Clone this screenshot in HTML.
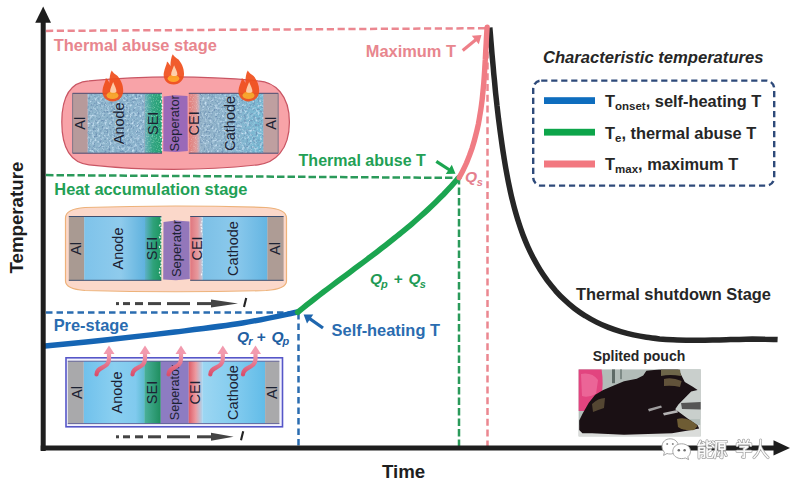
<!DOCTYPE html>
<html><head><meta charset="utf-8">
<style>
html,body{margin:0;padding:0;background:#fff;}
body{width:800px;height:485px;overflow:hidden;position:relative;font-family:"Liberation Sans",sans-serif;}
svg{position:absolute;left:0;top:0;}
text{font-family:"Liberation Sans",sans-serif;}
</style></head><body>
<svg width="800" height="485" viewBox="0 0 800 485">
<defs>
<filter id="spk" x="0" y="0" width="1" height="1" color-interpolation-filters="sRGB">
  <feTurbulence type="fractalNoise" baseFrequency="0.45" numOctaves="2" seed="4" result="n"/>
  <feColorMatrix in="n" type="matrix" values="0 0 0 0 0.42  0 0 0 0 0.56  0 0 0 0 0.7  3 0 0 0 -1.45" result="d"/>
  <feComposite in="d" in2="SourceGraphic" operator="in" result="dd"/>
  <feTurbulence type="fractalNoise" baseFrequency="0.4" numOctaves="2" seed="9" result="n2"/>
  <feColorMatrix in="n2" type="matrix" values="0 0 0 0 0.78  0 0 0 0 0.88  0 0 0 0 0.95  3 0 0 0 -1.5" result="l"/>
  <feComposite in="l" in2="SourceGraphic" operator="in" result="ll"/>
  <feMerge><feMergeNode in="SourceGraphic"/><feMergeNode in="dd"/><feMergeNode in="ll"/></feMerge>
</filter>
<filter id="spkG" x="0" y="0" width="1" height="1" color-interpolation-filters="sRGB">
  <feTurbulence type="fractalNoise" baseFrequency="0.8" numOctaves="2" seed="2" result="n"/>
  <feColorMatrix in="n" type="matrix" values="0 0 0 0 0.75  0 0 0 0 0.95  0 0 0 0 0.85  1.6 0 0 0 -0.8" result="l"/>
  <feComposite in="l" in2="SourceGraphic" operator="in" result="ll"/>
  <feMerge><feMergeNode in="SourceGraphic"/><feMergeNode in="ll"/></feMerge>
</filter>
<filter id="spkR" x="0" y="0" width="1" height="1" color-interpolation-filters="sRGB">
  <feTurbulence type="fractalNoise" baseFrequency="0.8" numOctaves="2" seed="5" result="n"/>
  <feColorMatrix in="n" type="matrix" values="0 0 0 0 0.95  0 0 0 0 0.8  0 0 0 0 0.8  1.6 0 0 0 -0.8" result="l"/>
  <feComposite in="l" in2="SourceGraphic" operator="in" result="ll"/>
  <feMerge><feMergeNode in="SourceGraphic"/><feMergeNode in="ll"/></feMerge>
</filter>
<linearGradient id="gAn1" x1="0" x2="1" y1="0" y2="0">
  <stop offset="0" stop-color="#90B6CC"/><stop offset="1" stop-color="#8CB4CE"/>
</linearGradient>
<linearGradient id="gCa1" x1="0" x2="1" y1="0" y2="0">
  <stop offset="0" stop-color="#95B3C8"/><stop offset="0.5" stop-color="#8CB6CF"/><stop offset="1" stop-color="#76BAD4"/>
</linearGradient>
<linearGradient id="gSEI1" x1="0" x2="1" y1="0" y2="0">
  <stop offset="0" stop-color="#6FAEC0"/><stop offset="0.45" stop-color="#35A585"/><stop offset="1" stop-color="#22A070"/>
</linearGradient>
<linearGradient id="gCEI1" x1="0" x2="1" y1="0" y2="0">
  <stop offset="0" stop-color="#E37C78"/><stop offset="0.7" stop-color="#DE9C9C"/><stop offset="1" stop-color="#B0B8CC"/>
</linearGradient>
<linearGradient id="gAn2" x1="0" x2="1" y1="0" y2="0">
  <stop offset="0" stop-color="#7EC3EA"/><stop offset="0.6" stop-color="#8FCBEC"/><stop offset="1" stop-color="#5FB2DE"/>
</linearGradient>
<linearGradient id="gSEI2" x1="0" x2="1" y1="0" y2="0">
  <stop offset="0" stop-color="#5DB0C8"/><stop offset="0.5" stop-color="#2FA27A"/><stop offset="1" stop-color="#1D9660"/>
</linearGradient>
<linearGradient id="gCEI2" x1="0" x2="1" y1="0" y2="0">
  <stop offset="0" stop-color="#E0767E"/><stop offset="0.6" stop-color="#E79A9E"/><stop offset="1" stop-color="#B9CCE0"/>
</linearGradient>
<linearGradient id="gCa2" x1="0" x2="1" y1="0" y2="0">
  <stop offset="0" stop-color="#7CC0E6"/><stop offset="0.5" stop-color="#8BC9EC"/><stop offset="1" stop-color="#64B5E2"/>
</linearGradient>
<linearGradient id="gAn3" x1="0" x2="1" y1="0" y2="0">
  <stop offset="0" stop-color="#70C1EC"/><stop offset="0.5" stop-color="#8ACFF0"/><stop offset="0.85" stop-color="#80CAEE"/><stop offset="1" stop-color="#5CBAD0"/>
</linearGradient>
<linearGradient id="gSEI3" x1="0" x2="1" y1="0" y2="0">
  <stop offset="0" stop-color="#4AB09A"/><stop offset="1" stop-color="#1E8E5E"/>
</linearGradient>
<linearGradient id="gCEI3" x1="0" x2="1" y1="0" y2="0">
  <stop offset="0" stop-color="#DF5E68"/><stop offset="0.5" stop-color="#EC9AA0"/><stop offset="1" stop-color="#A9D6F0"/>
</linearGradient>
<linearGradient id="gCa3" x1="0" x2="1" y1="0" y2="0">
  <stop offset="0" stop-color="#9CD6F2"/><stop offset="0.5" stop-color="#84CCEF"/><stop offset="1" stop-color="#62BCE8"/>
</linearGradient>
<linearGradient id="gHeat" x1="0" x2="0" y1="1" y2="0">
  <stop offset="0" stop-color="#D94F6C"/><stop offset="1" stop-color="#F2A0B2"/>
</linearGradient>
</defs>
<rect width="800" height="485" fill="#fff"/>
<g fill="none" stroke-width="2.5">
  <path d="M46 30.9 L487.5 28.2" stroke="#EB8790" stroke-dasharray="7.2 3.6"/>
  <path d="M487.5 30 V446" stroke="#EB8790" stroke-dasharray="7 3.8"/>
  <path d="M46 175.1 L459 177.9" stroke="#2A9A5A" stroke-dasharray="7.5 3"/>
  <path d="M459 177 V446" stroke="#2A9A5A" stroke-dasharray="7.5 3"/>
  <path d="M46 312.5 H298" stroke="#2A6CB0" stroke-dasharray="6.5 4"/>
  <path d="M298.5 313 V446" stroke="#2A6CB0" stroke-dasharray="6.5 4"/>
</g>
<path d="M89 80.9 Q174 73 258 80.9 C275 82 289.4 95 289.4 122 C289.4 150 275 163 258 164.8 Q174 174 89 164.8 C72 163 61.8 150 61.8 122 C61.8 95 72 82 89 80.9 Z" fill="#F8A3A8" stroke="#C95563" stroke-width="1.2"/>
<rect x="72.6" y="93.3" width="15" height="59.89999999999999" fill="#B79A9B"/>
<rect x="87.6" y="93.3" width="57" height="59.89999999999999" fill="url(#gAn1)" filter="url(#spk)"/>
<rect x="144.5" y="93.3" width="17.5" height="59.89999999999999" fill="url(#gSEI1)" filter="url(#spkG)"/>
<path d="M161.0 94.3 L161.3 96.6 L161.9 99.0 L160.4 100.6 L161.0 103.4 L162.8 105.2 L162.4 107.4 L161.9 109.6 L161.9 111.4 L161.7 114.2 L162.0 116.8 L162.2 118.4 L161.1 120.8 L162.5 122.3 L162.1 124.5 L162.1 127.3 L161.3 130.2 L161.5 132.9 L162.5 135.8 L160.7 137.5 L162.7 139.3 L161.9 141.5 L161.6 143.4 L161.2 145.5 L161.8 147.9 L162.0 150.7" fill="none" stroke="#ffffff" stroke-width="1.3" stroke-dasharray="2 1.5" opacity="0.85"/>
<path d="M163.5 96.5 L175 95.2 L187.5 96 L187.8 151 L176 152 L163.3 151.2 Z" fill="#9A69B8"/>
<rect x="188.8" y="93.3" width="11" height="59.89999999999999" fill="url(#gCEI1)" filter="url(#spkR)"/>
<rect x="199.6" y="93.3" width="64" height="59.89999999999999" fill="url(#gCa1)" filter="url(#spk)"/>
<rect x="263.6" y="93.3" width="14.6" height="59.89999999999999" fill="#BF9FA0"/>
<path d="M72.6 93.3 H162 M72.6 153.2 H162 M188.8 93.3 H278.2 M188.8 153.2 H278.2" stroke="#4A4A70" stroke-width="1" fill="none"/>
<path d="M72.6 93.3 V153.2 M278.2 93.3 V153.2" stroke="#6A6A80" stroke-width="0.8" fill="none"/>
<text transform="translate(84.6,123.3) rotate(-90)" font-size="14.5" fill="#1c2233" text-anchor="middle" >Al</text>
<text transform="translate(123.6,123.3) rotate(-90)" font-size="14.5" fill="#1c2233" text-anchor="middle" >Anode</text>
<text transform="translate(158.2,123.3) rotate(-90)" font-size="14.5" fill="#1c2233" text-anchor="middle" >SEI</text>
<text transform="translate(179,123.3) rotate(-90)" fill="#1c2233" text-anchor="middle" font-size="12.8">Seperator</text>
<text transform="translate(199,123.3) rotate(-90)" font-size="14.5" fill="#1c2233" text-anchor="middle" >CEI</text>
<text transform="translate(235.3,123.3) rotate(-90)" font-size="14.5" fill="#1c2233" text-anchor="middle" >Cathode</text>
<text transform="translate(275.5,123.3) rotate(-90)" font-size="14.5" fill="#1c2233" text-anchor="middle" >Al</text>
<g transform="translate(112.8,101.2) scale(1.07)" opacity="0.93">
<path d="M0 0.2 C-7.5 0.2 -10.5 -6 -9.5 -11 C-8.5 -16 -6.5 -19 -6.5 -21.6 C-4.5 -20 -3.5 -18 -3.2 -17 C-3.2 -22 -2.5 -26 -1 -28.6 C0.5 -26 2.5 -25 4.5 -23.6 C7.5 -20 10 -15 9.7 -9 C9.5 -4 5.5 0.2 0 0.2 Z" fill="#F0501E"/>
<ellipse cx="-0.3" cy="-5.4" rx="5.6" ry="3.4" fill="#FFA424"/>
<path d="M0.3 -18 C1.5 -15 3.6 -11.5 3.4 -9 C3 -7.4 -2.2 -7.4 -2.6 -9 C-2.6 -11.5 -0.8 -15 0.3 -18 Z" fill="#FFD9B5" opacity="0.9"/>
</g>
<g transform="translate(173.8,84.2) scale(1.05)" opacity="0.93">
<path d="M0 0.2 C-7.5 0.2 -10.5 -6 -9.5 -11 C-8.5 -16 -6.5 -19 -6.5 -21.6 C-4.5 -20 -3.5 -18 -3.2 -17 C-3.2 -22 -2.5 -26 -1 -28.6 C0.5 -26 2.5 -25 4.5 -23.6 C7.5 -20 10 -15 9.7 -9 C9.5 -4 5.5 0.2 0 0.2 Z" fill="#F0501E"/>
<ellipse cx="-0.3" cy="-5.4" rx="5.6" ry="3.4" fill="#FFA424"/>
<path d="M0.3 -18 C1.5 -15 3.6 -11.5 3.4 -9 C3 -7.4 -2.2 -7.4 -2.6 -9 C-2.6 -11.5 -0.8 -15 0.3 -18 Z" fill="#FFD9B5" opacity="0.9"/>
</g>
<g transform="translate(248.8,101.2) scale(1.07)" opacity="0.93">
<path d="M0 0.2 C-7.5 0.2 -10.5 -6 -9.5 -11 C-8.5 -16 -6.5 -19 -6.5 -21.6 C-4.5 -20 -3.5 -18 -3.2 -17 C-3.2 -22 -2.5 -26 -1 -28.6 C0.5 -26 2.5 -25 4.5 -23.6 C7.5 -20 10 -15 9.7 -9 C9.5 -4 5.5 0.2 0 0.2 Z" fill="#F0501E"/>
<ellipse cx="-0.3" cy="-5.4" rx="5.6" ry="3.4" fill="#FFA424"/>
<path d="M0.3 -18 C1.5 -15 3.6 -11.5 3.4 -9 C3 -7.4 -2.2 -7.4 -2.6 -9 C-2.6 -11.5 -0.8 -15 0.3 -18 Z" fill="#FFD9B5" opacity="0.9"/>
</g>
<path d="M85 207.5 Q176 204.5 266 207.5 Q286.5 209 286.5 218 L286.5 281 Q286.5 289 266 290.5 Q176 293 85 290.5 Q65.5 289 65.5 281 L65.5 218 Q65.5 209 85 207.5 Z" fill="#FBD8CA" stroke="#EDB27A" stroke-width="1.2"/>
<rect x="68.8" y="216.5" width="15.4" height="63.80000000000001" fill="#A99A92"/>
<rect x="84.2" y="216.5" width="61" height="63.80000000000001" fill="url(#gAn2)"/>
<rect x="145" y="216.5" width="16.3" height="63.80000000000001" fill="url(#gSEI2)"/>
<path d="M160.9 217.5 L161.3 220.1 L161.2 223.0 L159.5 225.9 L161.7 228.1 L161.6 230.6 L160.5 232.3 L160.7 234.1 L159.4 236.5 L160.1 238.3 L161.2 241.2 L161.3 242.9 L160.9 244.6 L159.4 246.3 L159.9 249.1 L161.8 250.9 L160.1 253.8 L160.7 256.7 L159.9 259.2 L161.1 262.1 L161.5 265.1 L160.3 267.0 L159.7 268.8 L160.1 270.4 L159.4 272.8 L160.2 275.3 L161.4 277.3" fill="none" stroke="#ffffff" stroke-width="1.3" stroke-dasharray="2 1.5" opacity="0.85"/>
<path d="M163.5 222 L176 220.5 L189.5 221.5 L189.8 279 L176 280.3 L163.2 279.5 Z" fill="#9377BA"/>
<rect x="190.2" y="216.5" width="12.6" height="63.80000000000001" fill="url(#gCEI2)"/>
<path d="M202.0 217.5 L203.0 219.2 L202.6 220.8 L201.2 222.9 L201.1 225.1 L201.2 227.3 L202.3 228.9 L201.4 231.7 L202.9 233.5 L202.7 236.4 L203.9 238.5 L203.6 240.1 L201.4 242.0 L201.9 243.7 L201.5 246.4 L202.9 248.8 L202.6 250.9 L201.2 252.5 L203.0 254.3 L201.9 256.4 L202.4 258.8 L203.4 260.7 L201.7 263.3 L202.6 265.6 L203.2 268.5 L203.9 270.4 L202.3 272.1 L201.5 274.7 L201.1 276.9" fill="none" stroke="#ffffff" stroke-width="1.3" stroke-dasharray="2 1.5" opacity="0.85"/>
<rect x="202.6" y="216.5" width="65" height="63.80000000000001" fill="url(#gCa2)"/>
<rect x="267.5" y="216.5" width="16.1" height="63.80000000000001" fill="#AE9C95"/>
<path d="M68.8 216.5 H161.3 M68.8 280.3 H161.3 M190.2 216.5 H283.6 M190.2 280.3 H283.6" stroke="#3F4F70" stroke-width="1" fill="none"/>
<text transform="translate(80.5,248.5) rotate(-90)" font-size="14.5" fill="#1c2233" text-anchor="middle" >Al</text>
<text transform="translate(122.5,248.5) rotate(-90)" font-size="14.5" fill="#1c2233" text-anchor="middle" >Anode</text>
<text transform="translate(157.3,248.5) rotate(-90)" font-size="14.5" fill="#1c2233" text-anchor="middle" >SEI</text>
<text transform="translate(181,248.5) rotate(-90)" fill="#1c2233" text-anchor="middle" font-size="13">Seperator</text>
<text transform="translate(202,248.5) rotate(-90)" font-size="14.5" fill="#1c2233" text-anchor="middle" >CEI</text>
<text transform="translate(237.5,248.5) rotate(-90)" font-size="14.5" fill="#1c2233" text-anchor="middle" >Cathode</text>
<text transform="translate(280,248.5) rotate(-90)" font-size="14.5" fill="#1c2233" text-anchor="middle" >Al</text>
<rect x="66" y="357.8" width="216.5" height="69" fill="#F2F2FC" stroke="#5656C8" stroke-width="1.6"/>
<rect x="67.8" y="361.2" width="16" height="62.400000000000034" fill="#A9A9AB"/>
<rect x="83.8" y="361.2" width="61" height="62.400000000000034" fill="url(#gAn3)"/>
<rect x="144.5" y="361.2" width="16.3" height="62.400000000000034" fill="url(#gSEI3)"/>
<rect x="160.8" y="361.2" width="28" height="62.400000000000034" fill="#8D7CC2"/>
<rect x="188.7" y="361.2" width="14" height="62.400000000000034" fill="url(#gCEI3)"/>
<rect x="202.6" y="361.2" width="62.6" height="62.400000000000034" fill="url(#gCa3)"/>
<rect x="265.1" y="361.2" width="14.3" height="62.400000000000034" fill="#A9A9AB"/>
<path d="M67.8 361.2 H279.4 M67.8 423.6 H279.4" stroke="#4A4A8A" stroke-width="0.8" fill="none"/>
<text transform="translate(81.6,392.5) rotate(-90)" font-size="14.5" fill="#1c2233" text-anchor="middle" >Al</text>
<text transform="translate(121.7,392.5) rotate(-90)" font-size="14.5" fill="#1c2233" text-anchor="middle" >Anode</text>
<text transform="translate(156.5,392.5) rotate(-90)" font-size="14.5" fill="#1c2233" text-anchor="middle" >SEI</text>
<text transform="translate(179,392.5) rotate(-90)" fill="#1c2233" text-anchor="middle" font-size="12.6">Seperator</text>
<text transform="translate(199.5,392.5) rotate(-90)" font-size="14.5" fill="#1c2233" text-anchor="middle" >CEI</text>
<text transform="translate(238,392.5) rotate(-90)" font-size="14.5" fill="#1c2233" text-anchor="middle" >Cathode</text>
<text transform="translate(277,392.5) rotate(-90)" font-size="14.5" fill="#1c2233" text-anchor="middle" >Al</text>
<g>
<path d="M96.5 374.5 C96.5 366 109.0 369 109.0 359 L109.0 352.6" fill="none" stroke="url(#gHeat)" stroke-width="4.2" stroke-linecap="round"/>
<path d="M103.5 354.1 L109.0 345.6 L114.5 354.1 Z" fill="#F29AAE"/>
</g>
<g>
<path d="M132.5 374.5 C132.5 366 145.0 369 145.0 359 L145.0 352.6" fill="none" stroke="url(#gHeat)" stroke-width="4.2" stroke-linecap="round"/>
<path d="M139.5 354.1 L145.0 345.6 L150.5 354.1 Z" fill="#F29AAE"/>
</g>
<g>
<path d="M168.5 374.5 C168.5 366 181.0 369 181.0 359 L181.0 352.6" fill="none" stroke="url(#gHeat)" stroke-width="4.2" stroke-linecap="round"/>
<path d="M175.5 354.1 L181.0 345.6 L186.5 354.1 Z" fill="#F29AAE"/>
</g>
<g>
<path d="M210.3 374.5 C210.3 366 222.8 369 222.8 359 L222.8 352.6" fill="none" stroke="url(#gHeat)" stroke-width="4.2" stroke-linecap="round"/>
<path d="M217.3 354.1 L222.8 345.6 L228.3 354.1 Z" fill="#F29AAE"/>
</g>
<g>
<path d="M243 374.5 C243 366 255.5 369 255.5 359 L255.5 352.6" fill="none" stroke="url(#gHeat)" stroke-width="4.2" stroke-linecap="round"/>
<path d="M250.0 354.1 L255.5 345.6 L261.0 354.1 Z" fill="#F29AAE"/>
</g>
<rect x="116" y="302.1" width="3" height="3" fill="#444"/>
<rect x="123" y="302.1" width="7" height="3" fill="#444"/>
<rect x="135" y="302.1" width="8" height="3" fill="#444"/>
<rect x="148" y="302.1" width="13" height="3" fill="#444"/>
<rect x="167" y="302.1" width="23" height="3" fill="#444"/>
<rect x="197" y="302.1" width="14" height="3" fill="#444"/>
<path d="M211 299.6 L238 303.6 L211 307.6 Z" fill="#444"/>
<path d="M246.2 298.1 L244 307.1" stroke="#222" stroke-width="2.1"/>
<rect x="116" y="435.3" width="3" height="3" fill="#444"/>
<rect x="123" y="435.3" width="7" height="3" fill="#444"/>
<rect x="135" y="435.3" width="8" height="3" fill="#444"/>
<rect x="148" y="435.3" width="13" height="3" fill="#444"/>
<rect x="167" y="435.3" width="23" height="3" fill="#444"/>
<rect x="197" y="435.3" width="14" height="3" fill="#444"/>
<path d="M211 432.8 L233.6 436.8 L211 440.8 Z" fill="#444"/>
<path d="M243.2 431.3 L241 440.3" stroke="#222" stroke-width="2.1"/>
<g fill="none" stroke-width="5" stroke-linecap="round">
  <path d="M45.0 346.0 C55.4 345.0 85.8 342.1 107.5 339.8 C129.2 337.5 152.5 334.8 175.0 332.0 C197.5 329.2 222.0 326.3 242.5 323.0 C263.0 319.7 288.8 313.8 298.0 312.0" stroke="#1565B4" stroke-width="5.4"/>
  <path d="M297.7 312.2 C299.1 311.1 303.4 307.6 306.3 305.3 C309.2 303.1 312.1 300.8 315.0 298.5 C317.9 296.3 320.8 294.0 323.7 291.8 C326.7 289.6 329.6 287.4 332.6 285.1 C335.5 282.9 338.5 280.7 341.4 278.5 C344.4 276.3 347.4 274.1 350.3 271.9 C353.3 269.7 356.2 267.5 359.2 265.3 C362.2 263.1 365.1 260.9 368.1 258.6 C371.0 256.4 373.9 254.2 376.9 251.9 C379.8 249.7 382.7 247.4 385.6 245.2 C388.5 242.9 391.4 240.6 394.3 238.3 C397.2 236.0 400.1 233.7 402.9 231.4 C405.7 229.0 408.6 226.7 411.4 224.3 C414.2 221.9 416.9 219.5 419.7 217.0 C422.4 214.6 425.2 212.1 427.9 209.6 C430.6 207.1 433.2 204.6 435.9 202.0 C438.5 199.4 441.1 196.8 443.7 194.2 C446.2 191.5 448.8 188.8 451.3 186.1 C453.8 183.4 457.4 179.1 458.6 177.8" stroke="#1BA550" stroke-width="5.6"/>
  <path d="M489.8 27.4 C490.0 29.6 490.6 36.3 490.9 40.7 C491.3 45.1 491.6 49.5 492.0 53.9 C492.4 58.2 492.8 62.6 493.2 66.9 C493.5 71.3 493.9 75.6 494.4 79.9 C494.8 84.3 495.2 88.6 495.6 92.9 C496.1 97.2 496.6 101.5 497.0 105.8 C497.5 110.1 498.0 114.4 498.5 118.7 C499.1 122.9 499.6 127.2 500.2 131.6 C500.8 135.9 501.4 140.2 502.0 144.5 C502.6 148.8 503.3 153.1 504.0 157.5 C504.7 161.8 505.4 166.2 506.2 170.5 C507.0 174.9 507.8 179.3 508.7 183.6 C509.6 188.0 510.5 192.3 511.5 196.6 C512.6 201.0 513.6 205.3 514.8 209.5 C516.0 213.8 517.2 218.1 518.6 222.2 C519.9 226.4 521.4 230.6 522.9 234.7 C524.5 238.8 526.1 242.9 527.9 246.8 C529.7 250.8 531.6 254.7 533.6 258.6 C535.6 262.4 537.8 266.2 540.1 269.9 C542.4 273.6 544.9 277.2 547.4 280.7 C550.0 284.1 552.8 287.5 555.6 290.8 C558.5 294.0 561.5 297.1 564.7 300.1 C567.8 303.1 571.1 305.9 574.5 308.5 C577.9 311.1 581.5 313.6 585.2 315.8 C588.8 318.1 592.6 320.2 596.5 322.1 C600.4 324.1 604.4 325.8 608.4 327.4 C612.5 329.0 616.6 330.4 620.8 331.6 C625.0 332.9 629.2 334.0 633.5 334.9 C637.8 335.8 642.1 336.6 646.5 337.3 C650.8 337.9 655.2 338.4 659.6 338.9 C664.0 339.3 668.4 339.6 672.8 339.8 C677.3 340.0 681.7 340.2 686.1 340.2 C690.6 340.3 695.1 340.3 699.5 340.3 C704.0 340.3 708.4 340.2 712.9 340.1 C717.3 340.0 721.7 339.8 726.1 339.7 C730.5 339.6 734.9 339.4 739.3 339.4 C743.7 339.3 748.0 339.2 752.3 339.1 C756.6 339.1 760.9 339.1 765.1 339.2 C769.3 339.2 775.5 339.5 777.6 339.6" stroke="#262626" stroke-width="5.5" stroke-linecap="butt"/>
  <path d="M459.2 177.6 C459.8 176.4 461.8 172.8 463.0 170.3 C464.2 167.9 465.4 165.4 466.5 163.0 C467.5 160.5 468.5 158.0 469.5 155.4 C470.4 152.9 471.3 150.4 472.2 147.8 C473.0 145.2 473.8 142.6 474.5 140.0 C475.2 137.4 475.9 134.8 476.5 132.2 C477.2 129.6 477.7 126.9 478.3 124.3 C478.8 121.6 479.3 119.0 479.7 116.3 C480.2 113.6 480.6 110.9 481.0 108.3 C481.4 105.6 481.7 102.9 482.1 100.2 C482.4 97.4 482.7 94.7 482.9 92.0 C483.2 89.3 483.4 86.6 483.7 83.9 C483.9 81.1 484.1 78.4 484.3 75.7 C484.5 73.0 484.7 70.3 484.8 67.5 C485.0 64.8 485.1 62.1 485.3 59.4 C485.4 56.7 485.6 53.9 485.7 51.2 C485.9 48.5 486.0 45.8 486.2 43.1 C486.3 40.4 486.4 37.8 486.6 35.1 C486.8 32.4 487.0 28.4 487.1 27.1" stroke="#F07C84" stroke-width="5.4"/>
</g>
<path d="M462.7 50.5 L476.1 39.5" stroke="#EE7F88" stroke-width="3.2" fill="none"/><path d="M481.5 35 L478.8 44.3 L471.8 35.8 Z" fill="#EE7F88"/>
<path d="M436.3 161.4 L449.6 170.0" stroke="#1BA550" stroke-width="3.2" fill="none"/><path d="M455.5 173.8 L445.8 174.1 L451.8 164.8 Z" fill="#1BA550"/>
<path d="M323 328 L309.3 318.4" stroke="#1F66AE" stroke-width="3.2" fill="none"/><path d="M303.6 314.4 L313.3 314.5 L307.0 323.5 Z" fill="#1F66AE"/>
<rect x="40.7" y="22" width="5" height="429" fill="#1e1e1e"/>
<path d="M43.2 6.5 L51 22.8 L35.2 22.8 Z" fill="#1e1e1e"/>
<rect x="40.7" y="445.5" width="735" height="5" fill="#1e1e1e"/>
<path d="M790 448 L773.5 440.3 L773.5 455.5 Z" fill="#1e1e1e"/>
<g font-weight="bold" font-size="16.4">
  <text x="53.8" y="51.3" fill="#E8868E">Thermal abuse stage</text>
  <text x="54.3" y="194.6" fill="#22A055">Heat accumulation stage</text>
  <text x="53.7" y="331" fill="#2A6CB0">Pre-stage</text>
  <text x="365.8" y="56.8" fill="#E8868E">Maximum T</text>
  <text x="298.6" y="166" fill="#22A055" font-size="16">Thermal abuse T</text>
  <text x="331.6" y="336" fill="#2A6CB0">Self-heating T</text>
  <text x="576" y="300.3" fill="#262626">Thermal shutdown Stage</text>
  <text x="543" y="63.4" fill="#262626" font-style="italic" font-size="16.6">Characteristic temperatures</text>
</g>
<text x="381.9" y="477.7" font-weight="bold" font-size="18.7" fill="#1e1e1e">Time</text>
<text transform="translate(22.8,273.5) rotate(-90)" font-weight="bold" font-size="18.7" fill="#1e1e1e">Temperature</text>
<text x="592.7" y="361.2" font-weight="bold" font-size="14" fill="#262626">Splited pouch</text>
<g font-weight="bold" font-style="italic">
<g fill="#1E9A55">
<text x="370" y="284.2" font-size="15.5">Q</text><text x="381" y="287.8" font-size="11">p</text>
<text x="393.8" y="284.2" font-size="15.5" font-style="normal">+</text>
<text x="408.5" y="284.2" font-size="15.5">Q</text><text x="419.8" y="287.6" font-size="11">s</text>
</g>
<g fill="#1F60A2">
<text x="237" y="341.5" font-size="15.5">Q</text><text x="248.3" y="345" font-size="11">r</text>
<text x="256.8" y="341.5" font-size="15.5" font-style="normal">+</text>
<text x="271.5" y="341.5" font-size="15.5">Q</text><text x="282.5" y="345" font-size="11">p</text>
</g>
<g fill="#E57F8E">
<text x="465" y="182.4" font-size="15.5">Q</text><text x="476.8" y="185.5" font-size="11">s</text>
</g>
</g>
<rect x="533.2" y="80.6" width="241" height="105" rx="8" fill="none" stroke="#2E4A7A" stroke-width="2.4" stroke-dasharray="6.2 3.8"/>
<rect x="544" y="97.2" width="51" height="6.8" fill="#0E6DBE"/>
<rect x="544" y="128.8" width="51" height="6.8" fill="#0DA54A"/>
<rect x="544" y="160.5" width="51" height="7" fill="#F27880"/>
<g font-weight="bold" font-size="16.4" fill="#262626">
  <text x="605" y="106.6">T<tspan font-size="11.5" dy="3">onset</tspan><tspan dy="-3">, self-heating T</tspan></text>
  <text x="605" y="139">T<tspan font-size="11.5" dy="3">e</tspan><tspan dy="-3">, thermal abuse T</tspan></text>
  <text x="605" y="170.3">T<tspan font-size="11.5" dy="3">max</tspan><tspan dy="-3">, maximum T</tspan></text>
</g>
<g>
<clipPath id="phc"><rect x="578.4" y="369.2" width="122.4" height="67.4"/></clipPath>
<g clip-path="url(#phc)">
<rect x="578.4" y="369.2" width="122.4" height="67.4" fill="#B2BCB8"/>
<rect x="660" y="369.2" width="41" height="50" fill="#C9CFCC"/>
<rect x="578.4" y="425" width="122.4" height="12" fill="#DADCDA"/>
<rect x="612" y="369.2" width="3" height="14" fill="#5E6A66"/>
<rect x="620" y="369.2" width="2" height="10" fill="#7E8A86"/>
<path d="M578.4 369.2 H601.6 Q604 385 601 398 Q596 408 590 411 H578.4 Z" fill="#E2447F"/>
<path d="M581 374 Q592 372 598 380 L596 394 Q588 398 582 396 Z" fill="#EE6E9E" opacity="0.8"/>
<path d="M681 403 L700.8 402 V409.5 L682 409 Z" fill="#555"/>
<path d="M579.2 430 L579.2 420.4 L582.4 414 L588.8 402.8 L595.2 394.8 L603.2 390 L614.4 385.2 L624 381.2 L636.8 378.8 L643.2 375.6 L646.4 370.8 L659.2 369.5 L678.4 369.5 L684.8 382 L692.8 386.8 L697.6 390 L691.2 391.6 L684.8 398 L678.4 404.4 L675.2 409.2 L681.6 414 L688 418.8 L697.6 425.2 L699.2 428.4 L691.2 430 L672 433.2 L624 434.8 L592 433.2 L582.4 433.2 Z" fill="#1A1014"/>
<path d="M661 369.5 H680 L681 376 Q670 374 661 376 Z" fill="#6E664A"/>
<path d="M664 379 Q672 377 681.6 381 L680 387 Q672 385 664 386 Z" fill="#A89460" opacity="0.5"/>
<path d="M592 404 Q598 398 605 398 L604 408 Q598 410 593 412 Z" fill="#9C8A56" opacity="0.45"/>
<path d="M677 419 Q688 416 697.6 426 L694 430 Q684 431 678 427 Z" fill="#6E5C34"/>
<path d="M648 409 L661 405.5 L662 407.5 L649 411.5 Z" fill="#BFBFBF" opacity="0.8"/>
<path d="M663 413 L677 410 L678 412.5 L664 415.5 Z" fill="#D0D0D0" opacity="0.85"/>
</g></g>
<g>
<path d="M662 446.5 C662 441.8 665.8 438.8 670.2 438.8 C674.6 438.8 678.4 441.8 678.4 446.4 C678.4 450.8 674.6 454 670.2 454 C669 454 668 453.8 667 453.5 L663.6 455.4 L664.4 452.2 C662.9 450.8 662 448.7 662 446.5 Z" fill="#fff" stroke="#9c9c9c" stroke-width="0.9"/>
<circle cx="667.2" cy="444" r="1" fill="#8a8a8a"/><circle cx="672.8" cy="444" r="1" fill="#8a8a8a"/>
<path d="M672.8 451.3 C672.8 447 676.6 443.8 681.6 443.8 C686.6 443.8 690.5 447 690.5 451.3 C690.5 453.6 689.4 455.5 687.8 456.8 L688.6 459.6 L685.4 458 C684.2 458.4 683 458.6 681.6 458.6 C676.6 458.6 672.8 455.5 672.8 451.3 Z" fill="#fff" stroke="#9c9c9c" stroke-width="0.9"/>
<circle cx="678.8" cy="450.2" r="1.25" fill="#6e6e6e"/><circle cx="684.6" cy="450.2" r="1.25" fill="#6e6e6e"/>
<path d="M700.5 441 L698.3 445.2 L704.5 444.6 M703 442.5 L704.8 444 M699 458 V447.5 H704.5 V457.5 L703 457.5 M699 450.8 H704.5 M699 453.8 H704.5 M707 440.8 V446 Q707 447.5 709 447.5 H711.3 M710.5 442 L707.2 444 M707 449 V456 Q707 457.5 709 457.5 H711.5 M710.5 450.3 L707.2 452.3 M712.8 441.8 L714.3 443.3 M712.3 445.6 L713.9 447 M712 457.5 L714.6 451.5 M715.8 441.6 H726.6 M716.2 441.6 Q716.2 452 714.8 457.8 M719.2 443.5 H724.8 V449.2 H719.2 Z M719.2 446.3 H724.8 M722 449.2 V457.8 L720.6 457.2 M719.3 452.3 L718 455.5 M724.6 452.3 L726.2 455.5 M739 440.6 L740.2 442.6 M743.6 440.2 L744 442.6 M748.3 440.2 L747.2 442.6 M737.2 445.6 V443.8 H750.8 V445.6 M740.3 446.8 H747.6 L744.2 449.2 M737 451.2 H751 M744.2 449.2 V457.6 L742.4 457 M760.6 440 Q760.6 446 759.5 449.5 Q757.5 454.5 754 457.6 M760.4 446.5 Q763 453 768 457.6" fill="none" stroke="#a4a4a4" stroke-width="3" stroke-linecap="round" stroke-linejoin="round"/>
<path d="M700.5 441 L698.3 445.2 L704.5 444.6 M703 442.5 L704.8 444 M699 458 V447.5 H704.5 V457.5 L703 457.5 M699 450.8 H704.5 M699 453.8 H704.5 M707 440.8 V446 Q707 447.5 709 447.5 H711.3 M710.5 442 L707.2 444 M707 449 V456 Q707 457.5 709 457.5 H711.5 M710.5 450.3 L707.2 452.3 M712.8 441.8 L714.3 443.3 M712.3 445.6 L713.9 447 M712 457.5 L714.6 451.5 M715.8 441.6 H726.6 M716.2 441.6 Q716.2 452 714.8 457.8 M719.2 443.5 H724.8 V449.2 H719.2 Z M719.2 446.3 H724.8 M722 449.2 V457.8 L720.6 457.2 M719.3 452.3 L718 455.5 M724.6 452.3 L726.2 455.5 M739 440.6 L740.2 442.6 M743.6 440.2 L744 442.6 M748.3 440.2 L747.2 442.6 M737.2 445.6 V443.8 H750.8 V445.6 M740.3 446.8 H747.6 L744.2 449.2 M737 451.2 H751 M744.2 449.2 V457.6 L742.4 457 M760.6 440 Q760.6 446 759.5 449.5 Q757.5 454.5 754 457.6 M760.4 446.5 Q763 453 768 457.6" fill="none" stroke="#fafafa" stroke-width="1.6" stroke-linecap="round" stroke-linejoin="round"/>
</g>
</svg>
</body></html>
